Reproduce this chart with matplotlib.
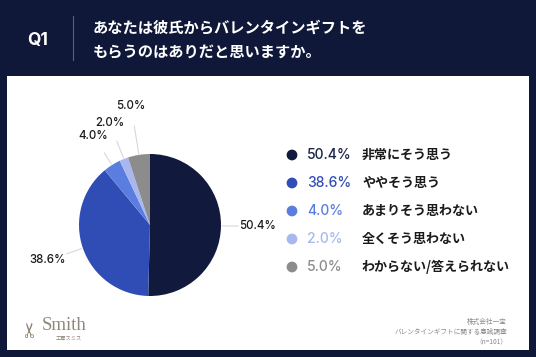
import numpy as np
import matplotlib
matplotlib.use("Agg")
import matplotlib.pyplot as plt
from matplotlib.patches import Rectangle

plt.rcParams['font.family'] = ['Noto Sans CJK JP', 'DejaVu Sans']

# data
labels = ["非常にそう思う", "ややそう思う", "あまりそう思わない", "全くそう思わない", "わからない/答えられない"]
values = [50.4, 38.6, 4.0, 2.0, 5.0]
colors = ["#111a3d", "#2f4db5", "#5b7ddf", "#a8b8ee", "#8c8c8c"]
text_colors = ["#1a2245", "#2f4db5", "#5b7ddf", "#a8b8ee", "#8c8c8c"]
label_dist = [1.52, 1.52, 1.48, 1.55, 1.69]

title_lines = ["あなたは彼氏からバレンタインギフトを", "もらうのはありだと思いますか。"]
source_lines = ["株式会社一宝", "バレンタインギフトに関する意識調査", "（n=101）"]

NAVY = "#0f1838"
W, H = 536, 357

fig = plt.figure(figsize=(W / 100, H / 100), dpi=100)
fig.patch.set_facecolor(NAVY)

bg = fig.add_axes([0, 0, 1, 1])
bg.set_xlim(0, W)
bg.set_ylim(H, 0)
bg.axis("off")

# white panel
bg.add_patch(Rectangle((7, 76), 522, 274, facecolor="white", edgecolor="none"))

# header
bg.text(38, 40, "Q1", color="white", fontsize=12.5, fontweight="bold",
        family=["Inter", "DejaVu Sans"], ha="center", va="center")
bg.plot([73, 73], [16, 60], color="#5a6080", linewidth=0.8)
for i, line in enumerate(title_lines):
    bg.text(93, 27 + i * 25, line, color="white", fontsize=11.0,
            fontweight="bold", ha="left", va="center")

# legend
for i, (lab, val) in enumerate(zip(labels, values)):
    y = 155 + i * 28
    bg.scatter([292], [y], s=60, color=colors[i], edgecolors="none")
    bg.text(307, y, f"{val:.1f}%", color=text_colors[i], fontsize=10,
            fontweight=500, family=["Inter", "DejaVu Sans"], ha="left", va="center")
    bg.text(362, y, lab, color="#1a1a1a", fontsize=9.4, fontweight="bold",
            ha="left", va="center")

# footer source
for i, line in enumerate(source_lines):
    bg.text(507, 322 + i * 10.3, line, color="#8a8a8a", fontsize=4.8,
            ha="right", va="center")

# logo
logo_c = "#8f8576"
bg.text(31, 329, "\u2702", color=logo_c, fontsize=15, family=["DejaVu Sans"],
        ha="center", va="center", rotation=90)
bg.text(42, 326, "Smith", color=logo_c, fontsize=13.5,
        family=["Liberation Serif", "DejaVu Serif"], ha="left", va="center")
bg.text(69, 338.5, "工房スミス", color=logo_c, fontsize=3.8, ha="center", va="center")

# pie
cx, cy, r = 150, 225, 71
pax = fig.add_axes([(cx - r) / W, (H - cy - r) / H, 2 * r / W, 2 * r / H])
pax.pie(values, colors=colors, startangle=90, counterclock=False,
        wedgeprops=dict(linewidth=0))
pax.set_xlim(-1, 1)
pax.set_ylim(-1, 1)
pax.set_aspect("equal")
pax.axis("off")

start = 90.0
for val, d in zip(values, label_dist):
    span = val / sum(values) * 360
    mid = np.deg2rad(start - span / 2)
    start -= span
    ux, uy = np.cos(mid), np.sin(mid)
    pax.plot([1.02 * ux, (d - 0.28) * ux], [1.02 * uy, (d - 0.28) * uy],
             color="#d8d8d8", linewidth=0.8, clip_on=False)
    pax.text(d * ux, d * uy, f"{val:.1f}%", color="#1a1a1a", fontsize=8.3,
             fontweight=500, family=["Inter", "DejaVu Sans"], ha="center", va="center")

fig.savefig("out.png", dpi=100, facecolor=NAVY)
